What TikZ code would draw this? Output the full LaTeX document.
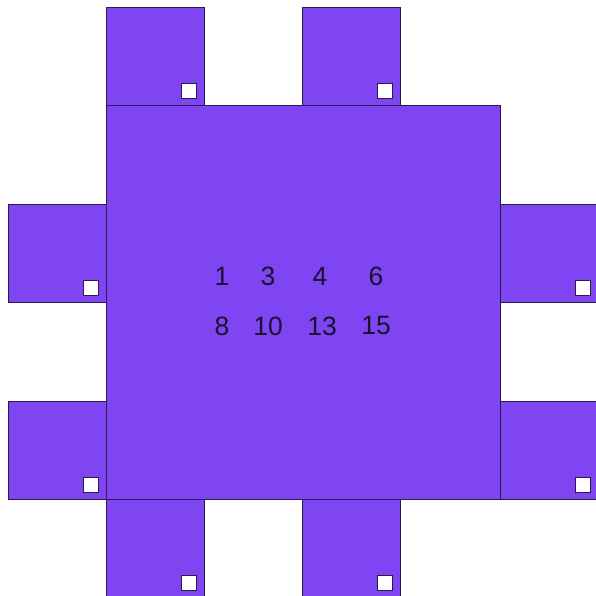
\documentclass[tikz,border=0pt]{standalone}
\usepackage{fontspec}
\setmainfont{Liberation Sans}
\definecolor{purp}{HTML}{7F45F2}
\definecolor{edge}{HTML}{2A1A4A}
\definecolor{txt}{HTML}{1A1030}
\begin{document}
\begin{tikzpicture}[x=1pt,y=-1pt,
  sq/.style={fill=purp,draw=edge,line width=0.9pt},
  mark box/.style={fill=white,draw=edge,line width=0.9pt},
  num/.style={text=txt,font=\fontsize{26.5}{29}\selectfont,inner sep=0pt}]
\useasboundingbox (0,0) rectangle (595,596);
% side squares
\foreach \x/\y in {106/7, 302/7, 8/204, 8/401, 500/204, 500/401, 106/499, 302/499}{
  \draw[sq] (\x,\y) rectangle ++(98,98);
  \draw[mark box] (\x+75,\y+76) rectangle ++(15.5,15.5);
}
% central square
\draw[sq] (106,105) rectangle (500,499);
% numbers
\node[num] (n1) at (222,276.5) {1};
\node[num] (n3) at (268,276.5) {3};
\node[num] (n4) at (320,276.5) {4};
\node[num] (n6) at (376,276.5) {6};
\node[num] (n8) at (222,326) {8};
\node[num] (n10) at (268,326) {10};
\node[num] (n13) at (322,326) {13};
\node[num] (n15) at (376,326) {15};
\end{tikzpicture}
\end{document}
